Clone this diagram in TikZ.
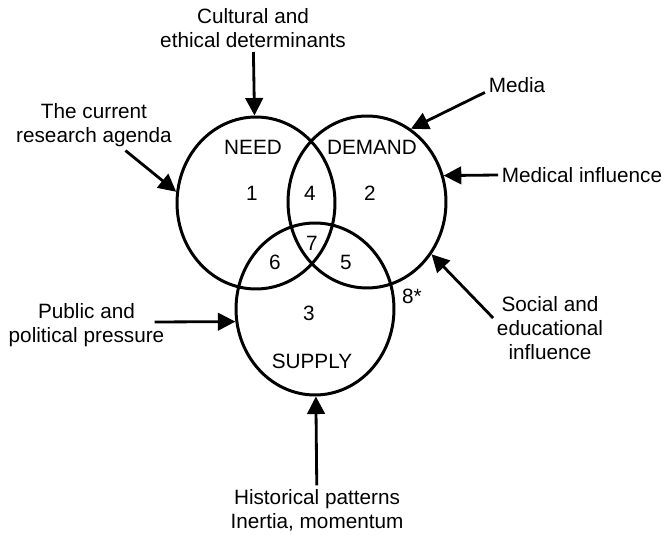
\documentclass[tikz,border=0pt]{standalone}
\usepackage{fontspec}
\setmainfont{Liberation Sans}
\usetikzlibrary{shapes.geometric,arrows.meta}

\begin{document}
\begin{tikzpicture}[x=0.02cm,y=0.02cm]
    \tikzset{venn/.style={
      ellipse,
      draw,
      line width=1.7pt,
      minimum width=3.16cm,
      minimum height=3.44cm,
      inner sep=0pt},
      txt/.style={align=center, inner sep=2pt, font=\fontsize{11.8}{13.7}\selectfont},
      arr/.style={-{Triangle[length=10pt,width=10pt]}, line width=1.6pt}}
    \useasboundingbox (0,0) rectangle (665,534);

    \node[venn] at (256, 331) (need) {};
    \node[venn] at (367, 332) (demand) {};
    \node[venn] at (315, 225) (supply) {};

    \node[txt] at (253, 387) (needlbl) {NEED};
    \node[txt] at (372, 387) (demandlbl) {DEMAND};
    \node[txt] at (312, 173) (supplylbl) {SUPPLY};
    \node[txt] at (252, 341) (r1) {1};
    \node[txt] at (370, 341) (r2) {2};
    \node[txt] at (309, 221) (r3) {3};
    \node[txt] at (310, 341) (r4) {4};
    \node[txt] at (346, 272) (r5) {5};
    \node[txt] at (275, 272) (r6) {6};
    \node[txt] at (312, 291) (r7) {7};
    \node[txt] at (412, 238) (r8) {8*};

    \node[txt] at (253, 505.5) (cult) {Cultural and\\ethical determinants};
    \node[txt] at (94, 409) (agenda) {The current\\research agenda};
    \node[txt] at (517, 449) (media) {Media};
    \node[txt] at (582, 359) (medical) {Medical influence};
    \node[txt] at (550, 206) (social) {Social and\\educational\\influence};
    \node[txt] at (86.5, 209) (public) {Public and\\political pressure};
    \node[txt] at (317, 24) (hist) {Historical patterns\\Inertia, momentum};

    \draw[arr] (cult) -- (need);
    \draw[arr] (agenda) -- (need.172);
    \draw[arr] (media.base west) -- (demand.59);
    \draw[arr] (medical.west) -- (demand.19);
    \draw[arr] ([yshift=5.7pt]social.west) -- (demand.-39);
    \draw[arr] ([shift={(-0.27cm,0.06cm)}]public.east) -- (supply.189);
    \draw[arr] (hist) -- (supply);
  \end{tikzpicture}
\end{document}
